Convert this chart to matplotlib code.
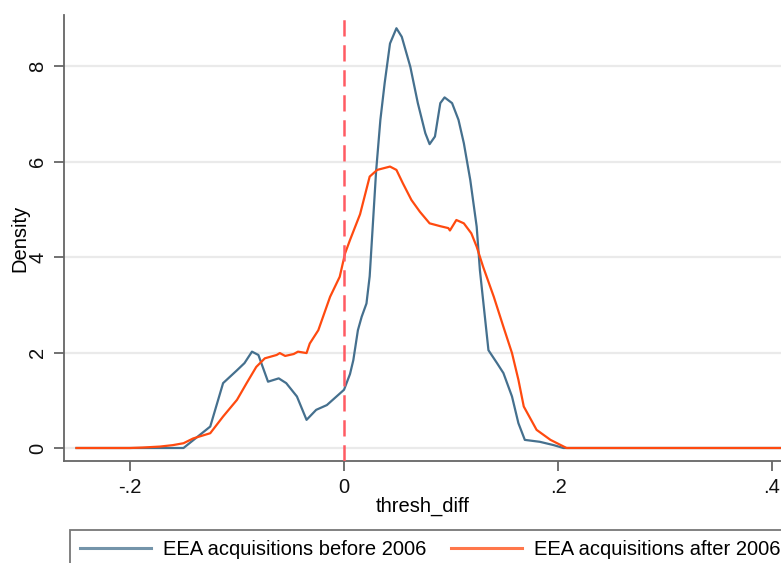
import matplotlib
matplotlib.use("Agg")
import matplotlib.pyplot as plt
from matplotlib.lines import Line2D

plt.rcParams['font.family'] = ['Liberation Sans', 'DejaVu Sans']

# EEA acquisitions before 2006 (kernel density)
before_x = [-0.25, -0.20, -0.150, -0.125, -0.113, -0.100, -0.093, -0.086, -0.080, -0.071,
            -0.061, -0.054, -0.044, -0.035, -0.026, -0.016, -0.007, 0.000, 0.0056, 0.0087,
            0.013, 0.0165, 0.021, 0.024, 0.027, 0.030, 0.034, 0.038, 0.043, 0.049,
            0.054, 0.062, 0.069, 0.076, 0.080, 0.085, 0.090, 0.094, 0.101, 0.107, 0.112,
            0.118, 0.124, 0.127, 0.130, 0.135, 0.143, 0.149, 0.157, 0.163, 0.169, 0.183,
            0.196, 0.205, 0.30, 0.41]
before_y = [0.0, 0.0, 0.0, 0.45, 1.36, 1.63, 1.78, 2.02, 1.95, 1.39,
            1.46, 1.36, 1.08, 0.59, 0.80, 0.90, 1.08, 1.22, 1.55, 1.84,
            2.47, 2.75, 3.03, 3.60, 4.70, 5.80, 6.88, 7.65, 8.48, 8.80,
            8.62, 7.99, 7.23, 6.60, 6.37, 6.53, 7.23, 7.35, 7.23, 6.88, 6.39,
            5.62, 4.64, 3.73, 3.10, 2.05, 1.78, 1.57, 1.08, 0.52, 0.17, 0.13,
            0.06, 0.0, 0.0, 0.0]

# EEA acquisitions after 2006
after_x = [-0.25, -0.20, -0.188, -0.172, -0.160, -0.150, -0.141, -0.125, -0.113, -0.100,
           -0.091, -0.082, -0.074, -0.063, -0.060, -0.055, -0.047, -0.043, -0.035, -0.032,
           -0.024, -0.013, -0.004, 0.001, 0.0056, 0.015, 0.024, 0.031, 0.043, 0.049,
           0.055, 0.063, 0.071, 0.080, 0.090, 0.0975, 0.099, 0.105, 0.112, 0.119,
           0.124, 0.130, 0.140, 0.149, 0.157, 0.163, 0.168, 0.180, 0.193, 0.208,
           0.30, 0.41]
after_y = [0.0, 0.0, 0.01, 0.03, 0.06, 0.10, 0.20, 0.31, 0.66, 1.01,
           1.36, 1.70, 1.88, 1.95, 1.99, 1.93, 1.97, 2.02, 1.99, 2.19,
           2.47, 3.17, 3.59, 4.08, 4.36, 4.90, 5.69, 5.83, 5.90, 5.83,
           5.55, 5.20, 4.95, 4.71, 4.65, 4.61, 4.56, 4.78, 4.71, 4.50,
           4.22, 3.80, 3.17, 2.54, 1.99, 1.43, 0.87, 0.38, 0.17, 0.0,
           0.0, 0.0]

xticks = [-0.2, 0.0, 0.2, 0.4]
xticklabels = ['-.2', '0', '.2', '.4']
yticks = [0, 2, 4, 6, 8]
yticklabels = ['0', '2', '4', '6', '8']
series_labels = ['EEA acquisitions before 2006', 'EEA acquisitions after 2006']
blue = '#45708e'
orange = '#ff4a0f'

W, H = 781, 563
fig = plt.figure(figsize=(W / 100, H / 100), dpi=100)
fig.patch.set_facecolor('white')

ax_left, ax_right, ax_top, ax_bottom = 64, 781, 15, 461
ax = fig.add_axes([ax_left / W, (H - ax_bottom) / H, (ax_right - ax_left) / W, (ax_bottom - ax_top) / H])

xpx0 = 344.0
xscale = 1070.0
x_lo = (ax_left - xpx0) / xscale
x_hi = (ax_right - xpx0) / xscale
ypx0 = 448.0
yscale = 47.7
y_lo = (ypx0 - ax_bottom) / yscale
y_hi = (ypx0 - ax_top) / yscale
ax.set_xlim(x_lo, x_hi)
ax.set_ylim(y_lo, y_hi)

for yt in yticks:
    ax.axhline(yt, color='#eaeaea', lw=1.6, zorder=0)

ax.plot(before_x, before_y, color=blue, lw=1.6, zorder=3)
ax.plot(after_x, after_y, color=orange, lw=1.6, zorder=4)
ax.axvline(0, color='#ff5b63', lw=1.8, ls=(0, (6.5, 3.5)), zorder=5)

for s in ['top', 'right']:
    ax.spines[s].set_visible(False)
for s in ['left', 'bottom']:
    ax.spines[s].set_color('#666666')
    ax.spines[s].set_linewidth(1.3)

FS = 14.5
ax.set_xticks(xticks)
ax.set_xticklabels(xticklabels)
ax.set_yticks(yticks)
ax.set_yticklabels(yticklabels, rotation=90, va='center')
ax.tick_params(axis='both', direction='out', length=7, width=1.3, color='#666666',
               labelsize=FS, labelcolor='#111111')
ax.tick_params(axis='x', pad=5)
ax.tick_params(axis='y', pad=5)
ax.set_xlabel('thresh_diff', fontsize=FS)
ax.xaxis.set_label_coords(0.5, -0.08)
ax.set_ylabel('Density', fontsize=FS)
ax.yaxis.set_label_coords(-0.048, 0.5)

handles = [Line2D([], [], color=blue, lw=2.2, alpha=0.75),
           Line2D([], [], color=orange, lw=2.2, alpha=0.75)]
leg = fig.legend(handles, series_labels, loc='upper left',
                 bbox_to_anchor=(70 / W, (H - 530) / H), ncol=2, fontsize=FS,
                 frameon=True, fancybox=False, handlelength=3.5, handletextpad=0.6,
                 columnspacing=1.25, borderpad=0.5, borderaxespad=0)
leg.get_frame().set_edgecolor('#555555')
leg.get_frame().set_linewidth(1.3)

fig.savefig('out.png', dpi=100)
